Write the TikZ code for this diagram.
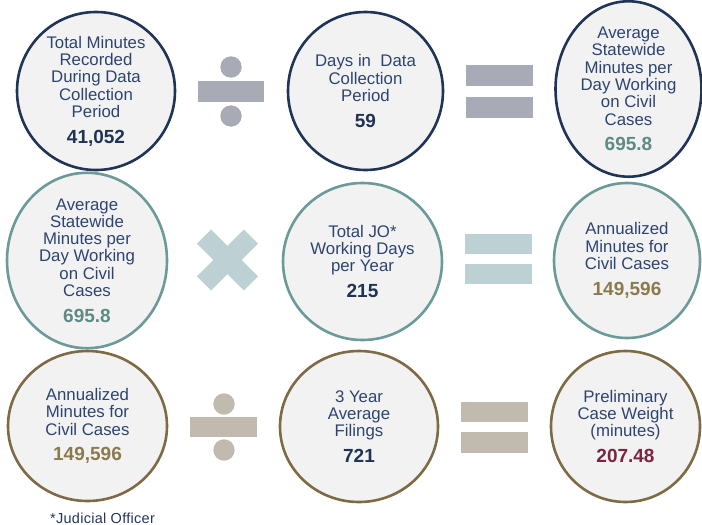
\documentclass[tikz,border=0pt]{standalone}
\usepackage{fontspec}
\setmainfont{Liberation Sans}
\usetikzlibrary{shapes.geometric}
\definecolor{Disc_Fill}{HTML}{F2F2F2}
\definecolor{Navy_Line}{HTML}{1F3456}
\definecolor{Navy_Text}{HTML}{2E4470}
\definecolor{Navy_Value}{HTML}{1F3354}
\definecolor{Teal_Line}{HTML}{6B9A99}
\definecolor{Teal_Value}{HTML}{5E8B86}
\definecolor{Teal_Op}{HTML}{BDD1D4}
\definecolor{Gold_Line}{HTML}{7E6B45}
\definecolor{Gold_Value}{HTML}{8B7A4E}
\definecolor{Gold_Op}{HTML}{C1BAAE}
\definecolor{Gray_Op}{HTML}{A8AAB5}
\definecolor{Maroon_Value}{HTML}{7B2542}

% value line under a disc label
\newcommand{\figval}[2]{\\[8.5pt]{\fontsize{19}{19}\selectfont\bfseries\color{#1}#2}}

\tikzset{
  disc/.style={ellipse, fill=Disc_Fill, line width=2.6pt, inner sep=0pt,
    align=center, text=Navy_Text, font=\fontsize{16.8}{17.3}\selectfont},
  discA/.style={disc, draw=Navy_Line},
  discB/.style={disc, draw=Teal_Line},
  discC/.style={disc, draw=Gold_Line},
}

\begin{document}
\begin{tikzpicture}[x=1pt, y=-1pt]
    \useasboundingbox (0,0) rectangle (702,525);

    % Row 1: minutes per day
    \node[discA, minimum width=158pt, minimum height=158pt] (totmin) at (96,91)
        {Total Minutes\\Recorded\\During Data\\Collection\\Period\figval{Navy_Value}{41,052}};
    \node[discA, minimum width=155pt, minimum height=158pt] (days) at (365.5,91)
        {Days in~ Data\\Collection\\Period\figval{Navy_Value}{59}};
    \node[discA, minimum width=146pt, minimum height=158pt] (avgA) at (628.5,89)
        {Average\\Statewide\\Minutes per\\Day Working\\on Civil\\Cases\figval{Teal_Value}{695.8}};

    % divide sign
    \fill[Gray_Op] (198,81) rectangle (264,102);
    \fill[Gray_Op] (231,67) circle (10.7);
    \fill[Gray_Op] (231,116) circle (10.7);

    % equals sign
    \fill[Gray_Op] (466,65) rectangle (533,86);
    \fill[Gray_Op] (466,97) rectangle (533,118);

    % Row 2: annualized minutes
    \node[discB, minimum width=160pt, minimum height=155pt] (avgB) at (87,260.5)
        {Average\\Statewide\\Minutes per\\Day Working\\on Civil\\Cases\figval{Teal_Value}{695.8}};
    \node[discB, minimum width=159pt, minimum height=157pt] (jodays) at (362.5,261.5)
        {Total JO*\\Working Days\\per Year\figval{Navy_Value}{215}};
    \node[discB, minimum width=146pt, minimum height=155pt] (annA) at (627,260.5)
        {Annualized\\Minutes for\\Civil Cases\figval{Gold_Value}{149,596}};

    % times sign
    \draw[Teal_Op, line width=20pt] (204,236.6) -- (251,283.4);
    \draw[Teal_Op, line width=20pt] (251,236.6) -- (204,283.4);

    % equals sign
    \fill[Teal_Op] (465,234) rectangle (532,254);
    \fill[Teal_Op] (465,264) rectangle (532,284);

    % Row 3: case weight
    \node[discC, minimum width=159pt, minimum height=150pt] (annB) at (87.5,426)
        {Annualized\\Minutes for\\Civil Cases\figval{Gold_Value}{149,596}};
    \node[discC, minimum width=158pt, minimum height=151pt] (filings) at (359,426.5)
        {3 Year\\Average\\Filings\figval{Navy_Value}{721}};
    \node[discC, minimum width=149pt, minimum height=151pt] (weight) at (625.5,426.5)
        {Preliminary\\Case Weight\\(minutes)\figval{Maroon_Value}{207.48}};

    % divide sign
    \fill[Gold_Op] (190,417) rectangle (257,437);
    \fill[Gold_Op] (224,404) circle (10.7);
    \fill[Gold_Op] (224,450) circle (10.7);

    % equals sign
    \fill[Gold_Op] (461,402) rectangle (528,422);
    \fill[Gold_Op] (461,432) rectangle (528,453);

    % Footnote
    \node[anchor=base, text=Navy_Text!80!black, font=\fontsize{14.5}{15}\selectfont\addfontfeature{LetterSpace=2}] (note) at (102.5,523)
        {*Judicial Officer};

\end{tikzpicture}
\end{document}
